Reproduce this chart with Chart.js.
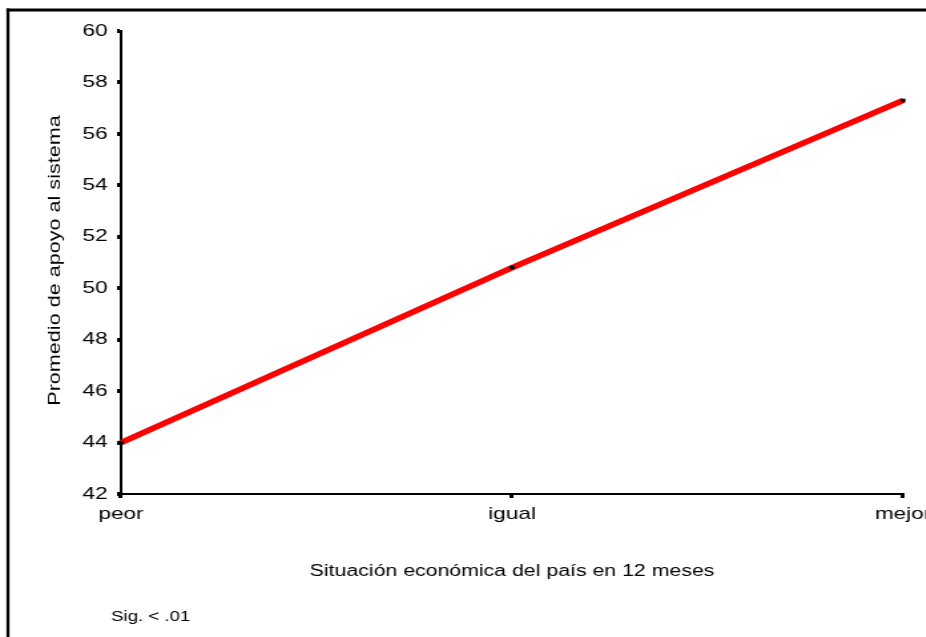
<!DOCTYPE html>
<html>
<head>
<meta charset="utf-8">
<script src="https://cdn.jsdelivr.net/npm/chart.js@4"></script>
<style>
  html, body { margin: 0; padding: 0; overflow: hidden; background: #fff; }
  #wrap { position: relative; width: 926px; height: 637px; overflow: hidden; }
  canvas { display: block; }
</style>
</head>
<body>
<div id="wrap"><canvas id="c" width="730" height="637"></canvas></div>
<script>
// ---- data ----
const categories = ['peor', 'igual', 'mejor'];
const apoyo = [44.0, 50.8, 57.3];
const yTickValues = [42, 44, 46, 48, 50, 52, 54, 56, 58, 60];
const yTitle = 'Promedio de apoyo al sistema';
const xTitle = 'Situación económica del país en 12 meses';
const note = 'Sig. < .01';

// horizontal stretch of the reference picture
const SX = 1.33;
const canvas = document.getElementById('c');
canvas.style.width = (730 * SX) + 'px';
canvas.style.height = '637px';

const FONT = "'Liberation Sans', Arial, sans-serif";

const decor = {
  id: 'decor',
  beforeDraw(chart) {
    const ctx = chart.ctx;
    ctx.save();
    ctx.fillStyle = '#fff';
    ctx.fillRect(0, 0, chart.width, chart.height);
    ctx.fillStyle = '#000';
    // frame (top + left)
    ctx.fillRect(6.5 / SX, 8.5, chart.width, 3);
    ctx.fillRect(6.5 / SX, 8.5, 3 / SX, chart.height);
    ctx.restore();
  },
  afterDraw(chart) {
    const ctx = chart.ctx;
    const y = chart.scales.y;
    ctx.save();
    ctx.fillStyle = '#000';
    // rotated y-axis title
    ctx.font = '16px ' + FONT;
    ctx.textAlign = 'center';
    ctx.textBaseline = 'middle';
    ctx.translate(55 / SX, (y.top + y.bottom) / 2 - 2);
    ctx.scale(1 / SX, 1.35);
    ctx.rotate(-Math.PI / 2);
    ctx.fillText(yTitle, 0, 0);
    ctx.restore();
    // significance note
    ctx.save();
    ctx.fillStyle = '#000';
    ctx.font = '14px ' + FONT;
    ctx.textAlign = 'left';
    ctx.textBaseline = 'middle';
    ctx.fillText(note, 111 / SX, 617);
    ctx.restore();
  }
};

new Chart(canvas, {
  type: 'line',
  data: {
    labels: categories,
    datasets: [{
      data: apoyo,
      borderColor: '#ff0000',
      borderWidth: 5.5,
      tension: 0,
      fill: false,
      pointStyle: 'rect',
      pointRadius: 2.5,
      pointBackgroundColor: '#000',
      pointBorderColor: '#000',
      pointBorderWidth: 0
    }]
  },
  options: {
    responsive: false,
    devicePixelRatio: 1,
    animation: false,
    events: [],
    layout: { padding: { left: 0, top: 31, right: 730 - 903 / SX, bottom: 0 } },
    plugins: { legend: { display: false }, tooltip: { enabled: false }, title: { display: false } },
    scales: {
      x: {
        type: 'category',
        offset: false,
        afterFit(scale) { scale.height = 637 - 494; },
        grid: { display: true, drawOnChartArea: false, drawTicks: true, tickLength: 4, tickWidth: 3, lineWidth: 3, color: '#000', tickColor: '#000' },
        border: { display: true, color: '#000', width: 2 },
        ticks: { color: '#000', font: { family: FONT, size: 17 }, padding: 6, maxRotation: 0, autoSkip: false },
        title: { display: true, text: xTitle, color: '#000', font: { family: FONT, size: 16 }, padding: { top: 0, bottom: 56 } }
      },
      y: {
        min: 42,
        max: 60,
        afterFit(scale) { scale.width = 121 / SX; },
        afterBuildTicks(scale) { scale.ticks = yTickValues.map(v => ({ value: v })); },
        grid: { display: true, drawOnChartArea: false, drawTicks: true, tickLength: 3, tickWidth: 4, lineWidth: 4, color: '#000', tickColor: '#000' },
        border: { display: true, color: '#000', width: 2 },
        ticks: { color: '#000', font: { family: FONT, size: 17 }, padding: 7 },
        title: { display: false }
      }
    }
  },
  plugins: [decor]
});
</script>
</body>
</html>
